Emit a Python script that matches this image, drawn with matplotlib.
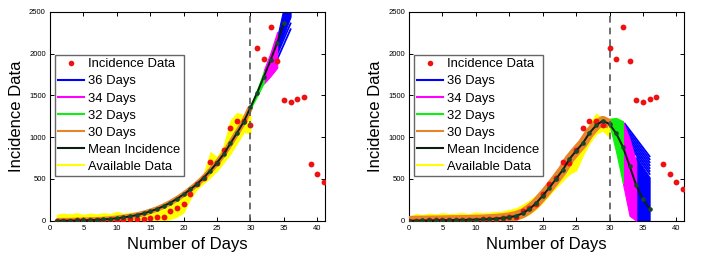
import numpy as np
import matplotlib
matplotlib.use("Agg")
import matplotlib.pyplot as plt
from matplotlib.lines import Line2D

plt.rcParams["font.family"] = ["Liberation Sans", "DejaVu Sans"]

# incidence data (right panel starts at day 0, left panel is shifted by one day)
incidence = [0, 0, 2, 3, 5, 8, 10, 10, 10, 10, 12, 15, 20, 22, 30, 40, 50,
             120, 150, 200, 320, 440, 510, 700, 690, 850, 1105, 1190, 1190, 1140,
             2060, 1940, 2320, 1910, 1440, 1420, 1450, 1480, 675, 555, 465, 385]

# mean incidence curves
mean_left = [0, 1, 2, 3, 5, 8, 11, 16, 22, 30, 40, 52, 68, 88, 112, 140, 175, 215,
             262, 315, 375, 440, 515, 600, 694, 798, 925, 1053, 1184, 1356,
             1531, 1723, 1918, 2130, 2370]
mean_right = [0, 2, 3, 4, 5, 6, 8, 9, 10, 12, 14, 16, 20, 25, 32, 42, 58,
              88, 140, 208, 299, 395, 499, 606, 738, 835, 926, 1050, 1140, 1196,
              1156, 1045, 885, 658, 423, 259, 140]

# available data envelope (yellow)
avail_up_left = [70, 85, 75, 90, 70, 85, 75, 90, 80, 105, 85, 95, 100, 110, 130,
                 150, 170, 220, 270, 330, 400, 480, 560, 820, 760, 900, 1200, 1290, 1260, 1250]
avail_lo_left = [0] * 16 + [0, 20, 50, 100, 270, 380, 450, 520, 600, 700, 800, 930, 1060, 1050]
avail_up_right = [40, 80, 70, 85, 75, 90, 80, 85, 90, 80, 100, 90, 95, 105, 110, 130,
                  150, 190, 240, 300, 380, 470, 580, 690, 820, 900, 1010, 1150, 1280, 1220, 1160]
avail_lo_right = [0] * 15 + [5, 15, 40, 80, 140, 220, 310, 400, 480, 560, 600, 780, 930, 1040, 1080, 1000]

# forecast envelopes
green_days = [30, 31, 32]
magenta_days = [32, 33, 34]
blue_days = [34, 35, 36]

green_up_left = [1375, 1570, 1790]
green_lo_left = [1340, 1490, 1650]
magenta_up_left = [1800, 2010, 2260]
magenta_lo_left = [1640, 1730, 1830]
blue_up_left = [2200, 2560, 2900]
blue_lo_left = [2020, 2230, 2440]
blue_start_left = [1930, 1990]
blue_end_left = [2290, 2360]

green_up_right = [1220, 1230, 1190]
green_lo_right = [1150, 820, 450]
magenta_up_right = [1190, 980, 700]
magenta_lo_right = [450, 60, 0]
blue_up_right = [760, 640, 520]
blue_lo_right = [0, 0, 0]
blue_start_right = [1160, 1130, 1100, 1070, 1040, 1010, 980]
blue_end_right = [770, 735, 700, 665, 630, 595, 560]

RED = "#ee1111"
BLUE = "#0000ff"
MAGENTA = "#ff00ff"
GREEN = "#11ee11"
ORANGE = "#e8832a"
YELLOW = "#ffff00"
DARK = "#0a1f10"
MARK = "#14462a"


def draw_panel(ax, day0, mean, avail_up, avail_lo, green, magenta, blue,
               blue_start, blue_end, blue_start_day, orange_lw):
    days_data = np.arange(len(incidence)) + day0
    days_mean = np.arange(len(mean)) + day0
    days_avail = np.arange(len(avail_up)) + day0

    ax.fill_between(days_avail, avail_lo, avail_up, color=YELLOW, lw=0.8, zorder=1)

    # forecast fans, drawn blue first so later ones sit on top
    for s, e in zip(blue_start, blue_end):
        ax.plot([blue_start_day, 36], [s, e], color=BLUE, lw=1.3, zorder=2)
    ax.fill_between(blue_days, blue[1], blue[0], color=BLUE, lw=0.8, zorder=2)
    ax.fill_between(magenta_days, magenta[1], magenta[0], color=MAGENTA, lw=0.8, zorder=3)
    ax.fill_between(green_days, green[1], green[0], color=GREEN, lw=0.8, zorder=4)

    n_fit = 31 - day0
    ax.plot(days_mean[:n_fit], mean[:n_fit], color=ORANGE, lw=orange_lw,
            solid_capstyle="butt", zorder=5)

    ax.plot(days_data, incidence, "o", color=RED, ms=4.2, mec="none", zorder=6)
    ax.plot(days_mean, mean, "-", color=DARK, lw=1.4, zorder=7)
    ax.plot(days_mean, mean, "o", color=MARK, ms=3.3, mec="none", zorder=8)

    ax.axvline(30, color="#555555", ls="--", lw=1.2, dashes=(4, 3), zorder=9)

    ax.set_xlim(0, 41.15)
    ax.set_ylim(0, 2500)
    ax.set_xticks(range(0, 41, 5))
    ax.set_yticks(range(0, 2501, 500))
    ax.tick_params(direction="in", top=True, right=True, length=3, width=0.7,
                   labelsize=5.5, pad=3)
    for sp in ax.spines.values():
        sp.set_linewidth(0.8)
    ax.set_xlabel("Number of Days", fontsize=12, labelpad=4)
    ax.set_ylabel("Incidence Data", fontsize=12, labelpad=4)

    handles = [
        Line2D([], [], ls="none", marker="o", color=RED, ms=4, mec="none"),
        Line2D([], [], color=BLUE, lw=1.5),
        Line2D([], [], color=MAGENTA, lw=1.5),
        Line2D([], [], color=GREEN, lw=1.5),
        Line2D([], [], color=ORANGE, lw=1.5),
        Line2D([], [], color=DARK, lw=1.5),
        Line2D([], [], color=YELLOW, lw=1.5),
    ]
    labels = ["Incidence Data", "36 Days", "34 Days", "32 Days", "30 Days",
              "Mean Incidence", "Available Data"]
    leg = ax.legend(handles, labels, loc="upper left", bbox_to_anchor=(0.018, 0.793),
                    borderaxespad=0, fontsize=9.4, handlelength=2.0, handletextpad=0.3,
                    labelspacing=0.38, borderpad=0.25, fancybox=False, framealpha=1)
    leg.get_frame().set_edgecolor("#666666")
    leg.get_frame().set_linewidth(1.0)
    leg.set_zorder(20)


fig = plt.figure(figsize=(7.03, 2.6), dpi=100)
ax1 = fig.add_axes([0.0711, 0.151, 0.3912, 0.804])
ax2 = fig.add_axes([0.5818, 0.151, 0.3912, 0.804])

draw_panel(ax1, 1, mean_left, avail_up_left, avail_lo_left,
           (green_up_left, green_lo_left), (magenta_up_left, magenta_lo_left),
           (blue_up_left, blue_lo_left), blue_start_left, blue_end_left, 34, 4.0)
draw_panel(ax2, 0, mean_right, avail_up_right, avail_lo_right,
           (green_up_right, green_lo_right), (magenta_up_right, magenta_lo_right),
           (blue_up_right, blue_lo_right), blue_start_right, blue_end_right, 32.3, 7.0)

fig.savefig("out.png", dpi=100)
